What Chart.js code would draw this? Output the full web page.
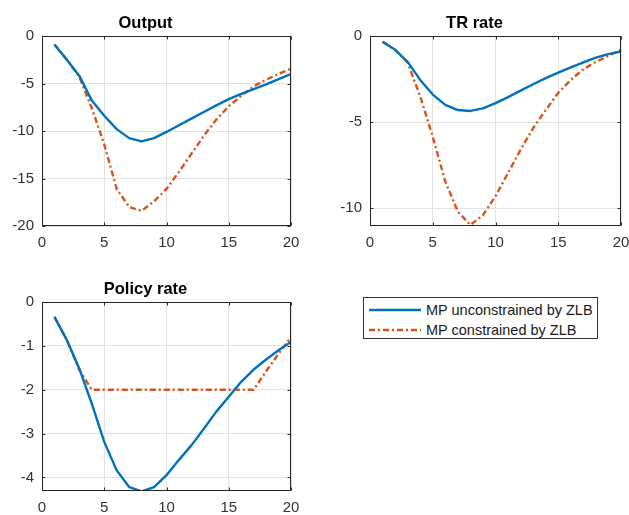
<!DOCTYPE html>
<html>
<head>
<meta charset="utf-8">
<title>Impulse responses</title>
<script src="https://cdn.jsdelivr.net/npm/chart.js@4/dist/chart.umd.min.js"></script>
<style>
  html, body { margin: 0; padding: 0; background: #fff; overflow: hidden; }
  body { width: 629px; height: 515px; position: relative; font-family: "Liberation Sans", Arial, sans-serif; }
  canvas { position: absolute; }
  #legend {
    position: absolute; left: 363px; top: 297px; width: 233px; height: 40px;
    border: 1px solid #333; background: #fff; font-size: 14.5px; color: #1a1a1a;
  }
  #legend .row { position: absolute; left: 4px; height: 20px; display: flex; align-items: center; }
  #legend svg { width: 54px; height: 20px; margin-right: 4px; }
</style>
</head>
<body>
<canvas id="outputChart" width="310" height="250" style="left:0;top:0"></canvas>
<canvas id="trChart" width="311" height="250" style="left:328px;top:0"></canvas>
<canvas id="policyChart" width="310" height="249" style="left:0;top:266px"></canvas>
<div id="legend">
  <div class="row" style="top:2px">
    <svg><line x1="1" y1="10" x2="53" y2="10" stroke="#0072BD" stroke-width="2.4"/></svg>
    <span>MP unconstrained by ZLB</span>
  </div>
  <div class="row" style="top:22px">
    <svg><line x1="1" y1="10" x2="53" y2="10" stroke="#D95319" stroke-width="2.4" stroke-dasharray="6 3 2 3"/></svg>
    <span>MP constrained by ZLB</span>
  </div>
</div>
<script>
// quarters after the shock
const periods = [1, 2, 3, 4, 5, 6, 7, 8, 9, 10, 11, 12, 13, 14, 15, 16, 17, 18, 19, 20];
const xTicks = [0, 5, 10, 15, 20];

// Output
const outputUnc = [-0.9, -2.5, -4.2, -6.8, -8.4, -9.8, -10.75, -11.1, -10.75, -10.1, -9.4, -8.7, -8.0, -7.3, -6.65, -6.1, -5.6, -5.1, -4.55, -4.0];
const outputCon = [-0.9, -2.5, -4.3, -7.6, -11.4, -16.1, -18.0, -18.4, -17.4, -16.1, -14.3, -12.4, -10.5, -8.8, -7.4, -6.3, -5.3, -4.6, -4.0, -3.45];
const outputTicks = [0, -5, -10, -15, -20];

// Taylor rule rate
const trUnc = [-0.33, -0.8, -1.5, -2.55, -3.4, -4.0, -4.3, -4.35, -4.2, -3.9, -3.55, -3.17, -2.8, -2.45, -2.13, -1.82, -1.53, -1.26, -1.05, -0.9];
const trCon = [-0.33, -0.8, -1.55, -3.5, -5.85, -8.45, -10.2, -10.97, -10.4, -9.3, -7.95, -6.6, -5.35, -4.3, -3.3, -2.55, -1.93, -1.5, -1.15, -0.8];
const trTicks = [0, -5, -10];

// Policy rate
const policyUnc = [-0.34, -0.87, -1.52, -2.32, -3.19, -3.84, -4.22, -4.32, -4.22, -3.95, -3.6, -3.27, -2.89, -2.5, -2.16, -1.82, -1.54, -1.31, -1.1, -0.91];
const policyCon = [-0.34, -0.87, -1.55, -2.0, -2.0, -2.0, -2.0, -2.0, -2.0, -2.0, -2.0, -2.0, -2.0, -2.0, -2.0, -2.0, -2.0, -1.58, -1.18, -0.8];
const policyTicks = [0, -1, -2, -3, -4];

const BLUE = '#0072BD';
const RED = '#D95319';
const AXIS = '#262626';
const FONT = '"Liberation Sans", Arial, sans-serif';

// box around the plot area with small inward tick marks
const axesBox = {
    id: 'axesBox',
    afterDraw(chart) {
        const { ctx, chartArea: a, scales } = chart;
        const L = Math.round(a.left) + 0.5, R = Math.round(a.right) - 0.5;
        const T = Math.round(a.top) + 0.5, B = Math.round(a.bottom) - 0.5;
        ctx.save();
        ctx.strokeStyle = AXIS;
        ctx.lineWidth = 1;
        ctx.beginPath();
        scales.x.ticks.forEach(t => {
            const px = Math.round(scales.x.getPixelForValue(t.value)) + 0.5;
            ctx.moveTo(px, B); ctx.lineTo(px, B - 3);
            ctx.moveTo(px, T); ctx.lineTo(px, T + 3);
        });
        scales.y.ticks.forEach(t => {
            const py = Math.round(scales.y.getPixelForValue(t.value)) + 0.5;
            ctx.moveTo(L, py); ctx.lineTo(L + 3, py);
            ctx.moveTo(R, py); ctx.lineTo(R - 3, py);
        });
        ctx.stroke();
        ctx.strokeRect(L, T, R - L, B - T);
        ctx.restore();
    }
};

function makePanel(canvasId, title, unc, con, yMin, yTicks, padRight) {
    const toPoints = vals => periods.map((p, i) => ({ x: p, y: vals[i] }));
    return new Chart(document.getElementById(canvasId), {
        type: 'line',
        data: {
            datasets: [
                {
                    label: 'MP unconstrained by ZLB',
                    data: toPoints(unc),
                    borderColor: BLUE,
                    borderWidth: 2.4,
                    borderJoinStyle: 'round',
                    pointRadius: 0,
                    tension: 0
                },
                {
                    label: 'MP constrained by ZLB',
                    data: toPoints(con),
                    borderColor: RED,
                    borderWidth: 2.4,
                    borderDash: [6, 3, 2, 3],
                    borderJoinStyle: 'round',
                    pointRadius: 0,
                    tension: 0
                }
            ]
        },
        options: {
            responsive: false,
            animation: false,
            devicePixelRatio: 1,
            layout: { padding: { left: 0, right: padRight, top: 0, bottom: 0 } },
            plugins: {
                legend: { display: false },
                tooltip: { enabled: false },
                title: {
                    display: true,
                    text: title,
                    color: '#000',
                    font: { family: FONT, size: 16.5, weight: 'bold' },
                    padding: { top: 13.5, bottom: 2.7 }
                }
            },
            scales: {
                x: {
                    type: 'linear',
                    min: 0,
                    max: 20,
                    grid: { color: '#e2e2e2', drawTicks: false },
                    border: { display: false },
                    ticks: {
                        color: '#333',
                        padding: 8,
                        maxRotation: 0,
                        font: { family: FONT, size: 15 }
                    },
                    afterBuildTicks: s => { s.ticks = xTicks.map(v => ({ value: v })); },
                    afterFit: s => { s.height = 24; s.paddingLeft = 0; s.paddingRight = 0; }
                },
                y: {
                    min: yMin,
                    max: 0,
                    grid: { color: '#e2e2e2', drawTicks: false },
                    border: { display: false },
                    ticks: {
                        color: '#333',
                        padding: 8,
                        font: { family: FONT, size: 15 },
                        callback: v => String(v)
                    },
                    afterBuildTicks: s => { s.ticks = yTicks.map(v => ({ value: v })); },
                    afterFit: s => { s.width = 42; }
                }
            }
        },
        plugins: [axesBox]
    });
}

document.addEventListener('DOMContentLoaded', function() {
    makePanel('outputChart', 'Output', outputUnc, outputCon, -20, outputTicks, 19);
    makePanel('trChart', 'TR rate', trUnc, trCon, -11.03, trTicks, 18);
    makePanel('policyChart', 'Policy rate', policyUnc, policyCon, -4.31, policyTicks, 19);
});
</script>
</body>
</html>
